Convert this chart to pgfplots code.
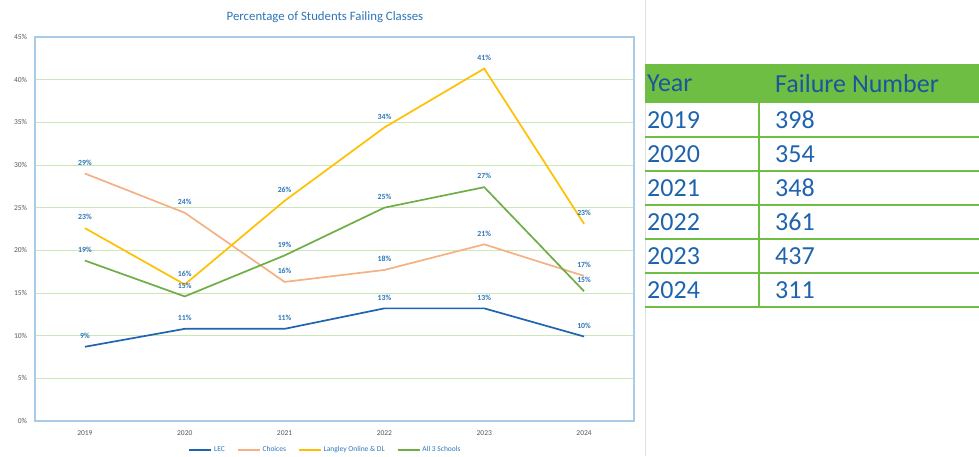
\documentclass[border=0pt]{standalone}
\usepackage{pgfplots}
\pgfplotsset{compat=1.18}
\usepackage{fontspec}
\setmainfont{Carlito}
\definecolor{lec}{HTML}{1F64AE}
\definecolor{choices}{HTML}{F4B183}
\definecolor{langley}{HTML}{FFC000}
\definecolor{allthree}{HTML}{70AD47}
\definecolor{gridg}{HTML}{C9E7B8}
\definecolor{axblue}{HTML}{A9CBE8}
\definecolor{lblblue}{HTML}{2E75B6}
\definecolor{tickgray}{HTML}{595959}
\definecolor{hdrgreen}{HTML}{6FBE44}
\definecolor{tblblue}{HTML}{1F63AE}
\definecolor{hdrblue}{HTML}{1A569C}
\begin{document}
\begin{tikzpicture}[x=1pt,y=1pt]
\path[use as bounding box] (0,0) rectangle (979,456);
\begin{axis}[
  at={(35pt,35pt)}, anchor=south west,
  scale only axis, width=599pt, height=384pt,
  xmin=-0.5, xmax=5.5, ymin=0, ymax=45,
  xtick={0,...,5}, xticklabels={2019,2020,2021,2022,2023,2024},
  ytick={0,5,...,45},
  yticklabel={\pgfmathprintnumber{\tick}\%},
  /pgf/number format/assume math mode=true,
  major tick length=0pt,
  ymajorgrids, grid style={gridg, line width=0.9pt},
  axis line style={axblue, line width=1.2pt},
  tick label style={tickgray, font=\fontsize{7.5}{9}\selectfont},
  yticklabel style={xshift=-4.5pt},
  xticklabel style={yshift=-6pt},
  clip=false,
  point meta=y,
  nodes near coords={\pgfmathprintnumber[fixed,precision=0]{\pgfplotspointmeta}\%},
  every node near coord/.style={anchor=center, yshift=11pt, text=lblblue, font=\fontsize{7.8}{9}\selectfont\bfseries},
  legend columns=4,
  legend style={at={(0.5,0)}, anchor=center, yshift=-29pt, xshift=-9pt, draw=none, fill=none,
    font=\fontsize{7.5}{9}\selectfont, text=lblblue,
    /tikz/every even column/.append style={column sep=10pt}},
  legend image code/.code={\draw[#1] (0pt,0pt) -- (22pt,0pt);},
  every axis plot/.append style={line width=1.7pt, mark=none},
]
\addplot[lec] coordinates {(0,8.7)(1,10.8)(2,10.8)(3,13.2)(4,13.2)(5,9.9)};
\addlegendentry{LEC}
\addplot[choices] coordinates {(0,29.0)(1,24.4)(2,16.3)(3,17.7)(4,20.7)(5,17.0)};
\addlegendentry{Choices}
\addplot[langley] coordinates {(0,22.6)(1,16.0)(2,25.8)(3,34.4)(4,41.3)(5,23.1)};
\addlegendentry{Langley Online \& DL}
\addplot[allthree] coordinates {(0,18.8)(1,14.6)(2,19.4)(3,25.0)(4,27.4)(5,15.2)};
\addlegendentry{All 3 Schools}
\end{axis}
\node[text=lblblue, font=\fontsize{12.8}{14}\selectfont] at (325,439) {Percentage of Students Failing Classes};
% separator
\draw[gray!25, line width=0.8pt] (645,0) -- (645,456);
% table
\fill[hdrgreen] (645,392) rectangle (979,353);
\node[anchor=west, text=hdrblue, font=\fontsize{26}{30}\selectfont, inner sep=0pt] at (647,372.5) {Year};
\node[anchor=west, text=hdrblue, font=\fontsize{26}{30}\selectfont, inner sep=0pt] at (775,372.5) {Failure Number};
\draw[hdrgreen, line width=1.6pt] (759,353) -- (759,149);
\foreach \yr/\n [count=\i from 0] in {2019/398,2020/354,2021/348,2022/361,2023/437,2024/311}{
  \node[anchor=west, text=tblblue, font=\fontsize{26}{30}\selectfont, inner sep=0pt] at (647,{456-120-34*\i}) {\yr};
  \node[anchor=west, text=tblblue, font=\fontsize{26}{30}\selectfont, inner sep=0pt] at (775,{456-120-34*\i}) {\n};
  \draw[hdrgreen, line width=1.6pt] (645,{456-137-34*\i}) -- (979,{456-137-34*\i});
}
\end{tikzpicture}
\end{document}
